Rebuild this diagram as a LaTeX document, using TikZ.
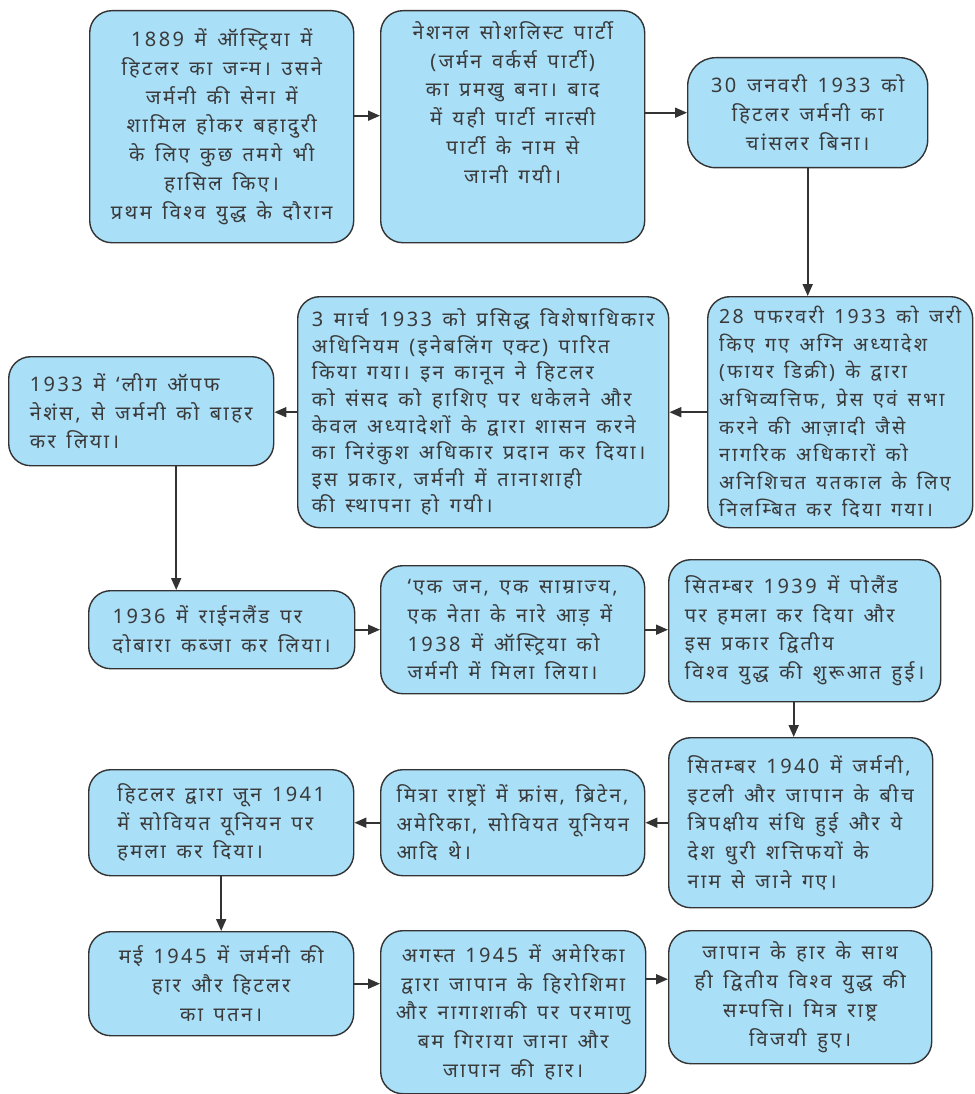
\documentclass[tikz,border=0pt]{standalone}
\usepackage{fontspec}
\newfontfamily\hindifont[Script=Devanagari,LetterSpace=12.0,WordSpace=1.4]{Noto Sans}
\definecolor{boxfill}{HTML}{AADFF8}
\definecolor{boxline}{HTML}{333333}
\definecolor{ink}{HTML}{3A3A3A}
\usetikzlibrary{arrows.meta}
\tikzstyle{base}=[x=1pt, y=-1pt]
\tikzstyle{box}=[draw=boxline, fill=boxfill, line width=1.4pt, rounded corners=22pt, anchor=north west, inner sep=3pt, text=ink, font=\hindifont\fontsize{20}{28.7}\selectfont]
\tikzstyle{dense}=[font=\hindifont\fontsize{20}{26.6}\selectfont]
\tikzstyle{denser}=[font=\hindifont\fontsize{19.5}{27.6}\selectfont]
\tikzstyle{link}=[draw=boxline, line width=1.8pt, -{Triangle[length=12pt,width=10pt]}]

\begin{document}
\begin{tikzpicture}[base]
    \path [use as bounding box] (0,0) rectangle (974,1094);
        % first row
        \node [box, align=center, minimum width=264pt, minimum height=232pt] (birth) at (89,10)
            {1889 में ऑस्ट्रिया में\\हिटलर का जन्म। उसने\\जर्मनी की सेना में\\शामिल होकर बहादुरी\\के लिए कुछ तमगे भी\\हासिल किए।\\प्रथम विश्व युद्ध के दौरान};
        \node [box, align=center, minimum width=264pt, minimum height=232pt] (party) at (380,10)
            {नेशनल सोशलिस्ट पार्टी\\(जर्मन वर्कर्स पार्टी)\\का प्रमखु बना। बाद\\में यही पार्टी नात्सी\\पार्टी के नाम से\\जानी गयी।\\[20pt]};
        \node [box, align=center, minimum width=240pt, minimum height=110pt, rounded corners=28pt] (chancellor) at (687,57)
            {30 जनवरी 1933 को\\हिटलर जर्मनी का\\चांसलर बिना।};
        % second row
        \node [box, denser, align=left, minimum width=265pt, minimum height=231pt] (decree) at (707,296)
            {28 पफरवरी 1933 को जरी\\किए गए अग्नि अध्यादेश\\(फायर डिक्री) के द्वारा\\अभिव्यत्तिफ, प्रेस एवं सभा\\करने की आज़ादी जैसे\\नागरिक अधिकारों को\\अनिशिचत यतकाल के लिए\\निलम्बित कर दिया गया।};
        \node [box, dense, align=left, minimum width=371pt, minimum height=231pt] (enabling) at (297,296)
            {3 मार्च 1933 को प्रसिद्ध विशेषाधिकार\\अधिनियम (इनेबलिंग एक्ट) पारित\\किया गया। इन कानून ने हिटलर\\को संसद को हाशिए पर धकेलने और\\केवल अध्यादेशों के द्वारा शासन करने\\का निरंकुश अधिकार प्रदान कर दिया।\\इस प्रकार, जर्मनी में तानाशाही\\की स्थापना हो गयी।};
        \node [box, align=left, minimum width=265pt, minimum height=109pt] (league) at (8,356)
            {1933 में ‘लीग ऑपफ\\नेशंस, से जर्मनी को बाहर\\कर लिया।};
        % third row
        \node [box, align=left, minimum width=266pt, minimum height=78pt] (rhineland) at (88,590)
            {1936 में राईनलैंड पर\\दोबारा कब्जा कर लिया।};
        \node [box, align=left, minimum width=264pt, minimum height=128pt] (austria) at (380,565)
            {‘एक जन, एक साम्राज्य,\\एक नेता के नारे आड़ में\\1938 में ऑस्ट्रिया को\\जर्मनी में मिला लिया।};
        \node [box, align=left, minimum width=272pt, minimum height=142pt] (poland) at (668,559)
            {सितम्बर 1939 में पोलैंड\\पर हमला कर दिया और\\इस प्रकार द्वितीय\\विश्व युद्ध की शुरूआत हुई।};
        % fourth row
        \node [box, align=left, minimum width=264pt, minimum height=170pt] (axis) at (668,737)
            {सितम्बर 1940 में जर्मनी,\\इटली और जापान के बीच\\त्रिपक्षीय संधि हुई और ये\\देश धुरी शत्तिफयों के\\नाम से जाने गए।};
        \node [box, align=left, minimum width=264pt, minimum height=106pt] (allies) at (380,769)
            {मित्रा राष्ट्रों में फ्रांस, ब्रिटेन,\\अमेरिका, सोवियत यूनियन\\आदि थे।};
        \node [box, align=left, minimum width=265pt, minimum height=106pt] (soviet) at (88,769)
            {हिटलर द्वारा जून 1941\\में सोवियत यूनियन पर\\हमला कर दिया।};
        % last row
        \node [box, align=center, minimum width=265pt, minimum height=104pt] (fall) at (88,931)
            {मई 1945 में जर्मनी की\\हार और हिटलर\\का पतन।};
        \node [box, align=center, minimum width=265pt, minimum height=163pt] (atom) at (380,930)
            {अगस्त 1945 में अमेरिका\\द्वारा जापान के हिरोशिमा\\और नागाशाकी पर परमाणु\\बम गिराया जाना और\\जापान की हार।};
        \node [box, align=center, minimum width=263pt, minimum height=133pt] (victory) at (668,930)
            {जापान के हार के साथ\\ही द्वितीय विश्व युद्ध की\\सम्पत्ति। मित्र राष्ट्र\\विजयी हुए।};
        % connectors
        \draw [link] ([yshift=11pt]birth.east) -- ([yshift=11pt]birth.east -| party.west);
        \draw [link] (party.east |- chancellor.west) -- (chancellor.west);
        \draw [link] (chancellor.south) -- (chancellor.south |- decree.north);
        \draw [link] (decree.west) -- (enabling.east);
        \draw [link] (enabling.west) -- (enabling.west -| league.east);
        \draw [link] ([xshift=35pt]league.south) -- ([xshift=35pt]league.south |- rhineland.north);
        \draw [link] (rhineland.east) -- (rhineland.east -| austria.west);
        \draw [link] (austria.east) -- (austria.east -| poland.west);
        \draw [link] ([xshift=-11pt]poland.south) -- ([xshift=-11pt]poland.south |- axis.north);
        \draw [link] (axis.west) -- (axis.west -| allies.east);
        \draw [link] (allies.west) -- (allies.west -| soviet.east);
        \draw [link] (soviet.south) -- (soviet.south |- fall.north);
        \draw [link] (fall.east) -- (fall.east -| atom.west);
        \draw [link] ([yshift=18pt]victory.west -| atom.east) -- ([yshift=18pt]victory.west);
    \end{tikzpicture}
\end{document}
